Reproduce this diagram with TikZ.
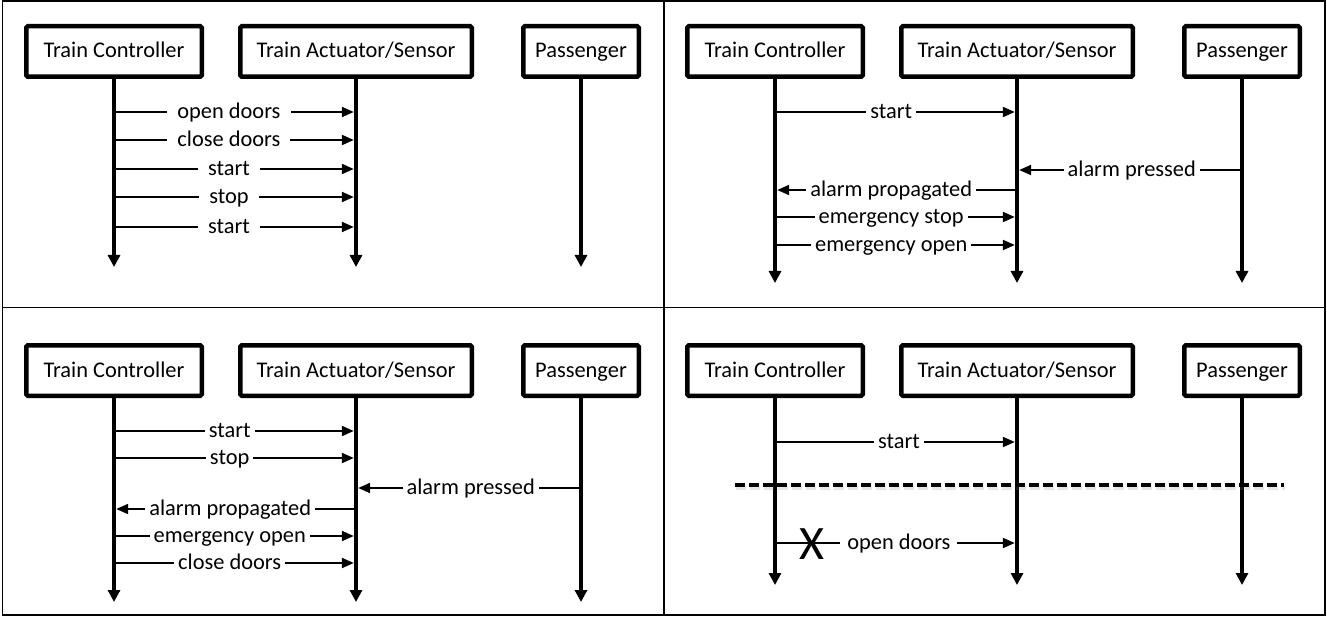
\documentclass[tikz,border=0pt]{standalone}
\usepackage{fontspec}
\setmainfont{Carlito}
\usetikzlibrary{arrows.meta}
\tikzset{
  >={Triangle[length=12pt,width=10pt]},
  x=1pt, y=-1pt,
}
\tikzstyle{every node}=[font=\fontsize{22.4}{26}\selectfont]
\tikzstyle{actor}=[draw, line width=4.5pt, rounded corners=1.5pt, minimum height=50.5pt, inner sep=0pt, text height=17pt, text depth=4pt]
\tikzstyle{lifeline}=[line width=4.5pt,-{Triangle[length=12pt,width=12pt]}]
\tikzstyle{msg}=[line width=2pt,->,shorten >=2.2pt]
\tikzstyle{lbl}=[fill=white, inner xsep=4pt, inner ysep=1pt, text height=15pt, text depth=4pt, yshift=-1pt]
\tikzstyle{frame}=[line width=1.5pt]

\begin{document}
\begin{tikzpicture}
    \useasboundingbox (0,0) rectangle (1327,628);
    % frame and panels
    \draw[frame] (2.5,1) rectangle (1325,615);
    \draw[frame] (664,1) -- (664,615);
    \draw[frame] (2.5,307.5) -- (1325,307.5);
    % heads and lifelines of the four panels
    \foreach \p/\dx/\dy/\bot in {1/0/0/267, 2/661/0/283, 3/0/319/602, 4/661/319/585}{
      \node[actor, minimum width=175.5pt] (tc\p) at (114+\dx,51.5+\dy) {Train Controller};
      \node[actor, minimum width=231.5pt] (tas\p) at (356+\dx,51.5+\dy) {Train Actuator/Sensor};
      \node[actor, minimum width=115.5pt] (pas\p) at (581+\dx,51.5+\dy) {Passenger};
      \draw[lifeline] (tc\p) -- (tc\p |- 0,\bot);
      \draw[lifeline] (tas\p) -- (tas\p |- 0,\bot);
      \draw[lifeline] (pas\p) -- (pas\p |- 0,\bot);
    }
    % panel 1
    \draw[msg] (tc1 |- 0,112) -- node[lbl,pos=.475,inner xsep=10pt]{open doors} (tas1 |- 0,112);
    \draw[msg] (tc1 |- 0,140) -- node[lbl,pos=.475,inner xsep=10pt]{close doors} (tas1 |- 0,140);
    \draw[msg] (tc1 |- 0,169) -- node[lbl,pos=.475,inner xsep=10pt]{start} (tas1 |- 0,169);
    \draw[msg] (tc1 |- 0,197) -- node[lbl,pos=.475,inner xsep=10pt]{stop} (tas1 |- 0,197);
    \draw[msg] (tc1 |- 0,227) -- node[lbl,pos=.475,inner xsep=10pt]{start} (tas1 |- 0,227);
    % panel 2
    \draw[msg] (tc2 |- 0,112) -- node[lbl,pos=.48]{start} (tas2 |- 0,112);
    \draw[msg] (pas2 |- 0,170) -- node[lbl,pos=.49]{alarm pressed} (tas2 |- 0,170);
    \draw[msg] (tas2 |- 0,190) -- node[lbl,pos=.52]{alarm propagated} (tc2 |- 0,190);
    \draw[msg] (tc2 |- 0,217) -- node[lbl,pos=.48]{emergency stop} (tas2 |- 0,217);
    \draw[msg] (tc2 |- 0,245) -- node[lbl,pos=.48]{emergency open} (tas2 |- 0,245);
    % panel 3
    \draw[msg] (tc3 |- 0,431) -- node[lbl,pos=.478]{start} (tas3 |- 0,431);
    \draw[msg] (tc3 |- 0,458) -- node[lbl,pos=.478]{stop} (tas3 |- 0,458);
    \draw[msg] (pas3 |- 0,488) -- node[lbl,pos=.49]{alarm pressed} (tas3 |- 0,488);
    \draw[msg] (tas3 |- 0,509) -- node[lbl,pos=.52]{alarm propagated} (tc3 |- 0,509);
    \draw[msg] (tc3 |- 0,536) -- node[lbl,pos=.478]{emergency open} (tas3 |- 0,536);
    \draw[msg] (tc3 |- 0,563) -- node[lbl,pos=.478]{close doors} (tas3 |- 0,563);
    % panel 4
    \draw[msg] (tc4 |- 0,442) -- node[lbl,pos=.512]{start} (tas4 |- 0,442);
    \draw[line width=4pt, gray, opacity=.2, dash pattern=on 10pt off 4pt] (736,488) -- (1285,488);
    \draw[line width=4.5pt, dash pattern=on 10pt off 4pt] (735,485) coordinate (cut) -- (1284,485) coordinate (cutend);
    \draw[msg] (tc4 |- 0,543) -- node[lbl,pos=.512,inner xsep=7pt]{open doors} (tas4 |- 0,543);
    \node[font=\fontsize{48}{48}\selectfont, inner sep=0pt] (cross) at (811.5,544) {X};
  \end{tikzpicture}
\end{document}
